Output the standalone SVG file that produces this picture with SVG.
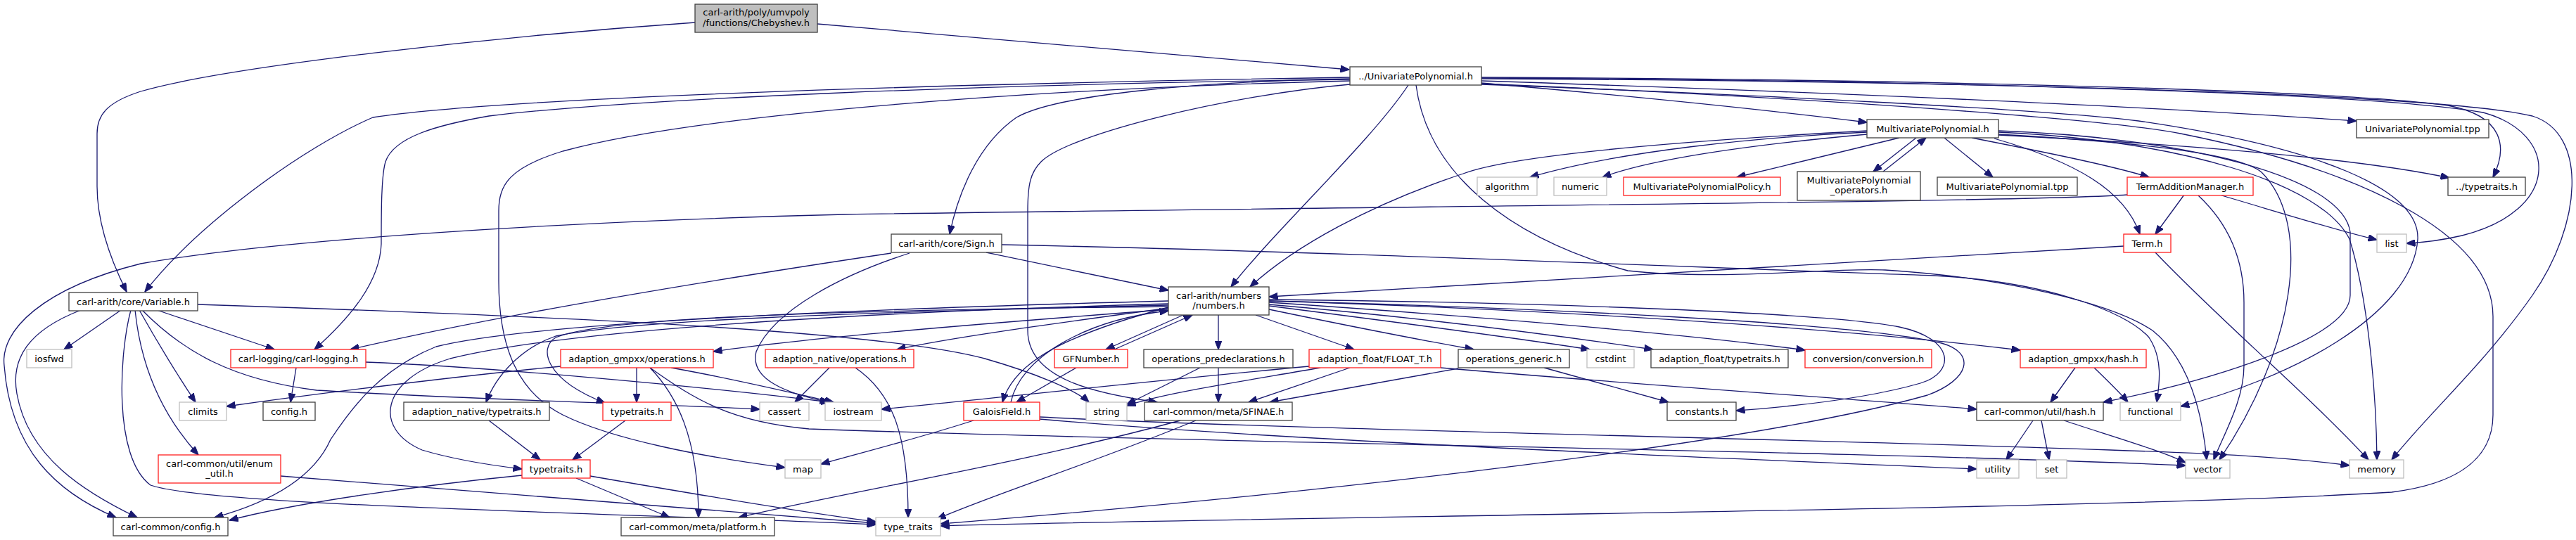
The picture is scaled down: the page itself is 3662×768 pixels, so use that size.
<svg xmlns="http://www.w3.org/2000/svg" width="3662" height="768" viewBox="0 0 3662 768">
<defs>
<style>
.node rect{fill:#ffffff;stroke:#404040;stroke-width:1.3}
.node rect.r{stroke:#ff2020}
.node rect.g{stroke:#bfbfbf}
.node rect.root{fill:#bfbfbf;stroke:#404040}
.node text{font-family:"DejaVu Sans","Liberation Sans",sans-serif;font-size:13px;fill:#000000;text-anchor:middle}
#edges path{fill:none;stroke:#191970;stroke-width:1.3;marker-end:url(#a)}
</style>
<marker id="a" markerUnits="userSpaceOnUse" markerWidth="13" markerHeight="10" viewBox="0 0 13 10" refX="12.5" refY="5" orient="auto"><path d="M0,0 L13,5 L0,10 z" fill="#191970" stroke="#191970" stroke-width="1"/></marker>
</defs>
<rect x="0" y="0" width="3662" height="768" fill="#ffffff"/>
<g id="edges">
<path d="M1162,34 C1450,58 1700,80 1918,99"/>
<path d="M988,32 C700,52 320,95 200,130 C150,146 138,165 138,190 L138,265 C138,320 160,375 180,415"/>
<path d="M1919,112 C1700,116 1500,135 1445,167 C1390,205 1362,275 1350,333"/>
<path d="M1919,110 C1300,120 700,140 530,167 C430,210 280,320 206,415"/>
<path d="M1919,113 C1400,120 900,140 695,165 C620,178 560,195 548,230 C542,250 542,300 542,347 C540,400 500,450 447,497"/>
<path d="M1919,115 C1500,125 1000,160 800,215 C725,238 709,262 709,300 L709,400 C709,500 740,560 800,590 C870,625 1000,650 1116,665"/>
<path d="M2002,121 C1950,200 1810,330 1750,408"/>
<path d="M1919,120 C1750,135 1520,190 1480,230 C1465,245 1461,262 1461,300 L1461,470 C1461,540 1560,560 1645,572"/>
<path d="M2106,118 C2300,135 2500,155 2654,174"/>
<path d="M2106,115 C2500,128 3000,148 3350,172"/>
<path d="M2106,110 C2600,112 3300,125 3480,150 C3560,165 3565,210 3544,252"/>
<path d="M2106,111 C2600,113 3350,128 3530,160 C3640,190 3640,300 3500,335 C3470,342 3445,345 3421,346"/>
<path d="M2106,112 C2700,115 3450,130 3600,165 C3680,190 3670,320 3600,420 C3530,520 3450,590 3400,654"/>
<path d="M2106,120 C2500,135 2900,155 3040,172 C3300,210 3440,270 3437,340 C3430,450 3250,540 3100,578"/>
<path d="M2013,121 C2030,250 2150,340 2314,385 C2450,400 2600,380 2680,384 C2850,395 3000,430 3060,470 C3110,510 3130,580 3137,654"/>
<path d="M2106,119 C2600,140 3000,170 3100,190 C3350,240 3544,330 3544,450 L3544,590 C3544,660 3480,690 3400,700 C3000,725 1800,735 1337,748"/>
<path d="M2654,188 C2500,195 2300,215 2175,252"/>
<path d="M2654,191 C2500,205 2350,225 2278,252"/>
<path d="M2654,186 C2400,200 2150,220 2080,247 C1950,290 1840,350 1777,408"/>
<path d="M2700,196 L2469,252"/>
<path d="M2724,196 L2663,244"/>
<path d="M2677,244 L2738,196"/>
<path d="M2764,196 L2833,252"/>
<path d="M2803,196 C2900,215 3000,235 3055,252"/>
<path d="M2835,197 C2950,230 3020,270 3042,333"/>
<path d="M2841,192 C3100,205 3350,225 3482,253"/>
<path d="M2841,191 C3000,200 3180,215 3215,245 C3290,320 3260,500 3155,654"/>
<path d="M2841,188 C3100,200 3300,260 3340,340 C3365,420 3378,550 3379,654"/>
<path d="M2841,186 C3100,195 3330,250 3341,330 L3341,420 C3341,480 3150,540 2990,572"/>
<path d="M3105,277 L3064,333"/>
<path d="M3155,277 C3250,305 3330,330 3379,341"/>
<path d="M3125,278 C3170,320 3190,370 3190,430 L3190,520 C3190,570 3160,620 3147,654"/>
<path d="M3024,277 C2900,287 2000,293 1200,305 C800,315 400,340 200,375 C60,410 0,470 6,520 C15,640 80,700 165,736"/>
<path d="M3019,350 C2500,380 2000,412 1804,422"/>
<path d="M3064,359 C3150,450 3280,560 3367,654"/>
<path d="M1402,359 C1500,380 1600,400 1661,413"/>
<path d="M1267,360 C1000,400 700,450 498,497"/>
<path d="M1293,360 C1200,390 1100,440 1075,500 C1065,540 1120,560 1178,572"/>
<path d="M1424,348 C1900,358 2400,380 2750,392 C2900,400 3020,440 3055,480 C3075,510 3070,545 3066,572"/>
<path d="M281,433 C800,450 1250,470 1400,510 C1470,530 1530,555 1548,572"/>
<path d="M115,441 C40,470 15,510 24,560 C40,650 120,700 195,736"/>
<path d="M172,441 L91,497"/>
<path d="M186,441 C170,500 160,650 214,690 C300,720 900,730 1245,746"/>
<path d="M192,441 C200,520 230,590 282,647"/>
<path d="M198,441 C220,480 250,530 278,572"/>
<path d="M202,441 C260,500 330,540 450,555 C700,570 950,575 1080,582"/>
<path d="M223,441 L390,497"/>
<path d="M421,523 L413,572"/>
<path d="M520,515 C700,522 1000,550 1180,572"/>
<path d="M399,677 C700,700 1000,725 1245,744"/>
<path d="M742,676 C600,690 420,715 326,740"/>
<path d="M819,680 L952,736"/>
<path d="M839,677 C1000,705 1150,730 1245,742"/>
<path d="M695,598 L768,654"/>
<path d="M889,598 L814,654"/>
<path d="M905,523 L905,572"/>
<path d="M924,523 C960,560 993,620 993,736"/>
<path d="M954,523 C1050,540 1130,560 1185,572"/>
<path d="M924,523 C990,570 1040,600 1150,610 C1700,630 2600,640 3107,662"/>
<path d="M797,521 C650,535 450,560 322,578"/>
<path d="M1179,523 L1130,572"/>
<path d="M1216,523 C1270,560 1291,620 1291,736"/>
<path d="M1682,448 L1572,497"/>
<path d="M1584,497 L1695,448"/>
<path d="M1661,437 C1500,480 1440,520 1425,572"/>
<path d="M1437,572 C1450,510 1540,455 1661,442"/>
<path d="M1530,523 L1445,572"/>
<path d="M1732,448 L1732,497"/>
<path d="M1785,448 L1925,497"/>
<path d="M1804,440 C1900,460 2000,480 2095,497"/>
<path d="M1804,435 C2000,460 2150,480 2260,497"/>
<path d="M1804,433 C2000,450 2200,475 2350,497"/>
<path d="M1804,430 C2100,450 2400,475 2566,498"/>
<path d="M1804,428 C2200,440 2600,465 2872,498"/>
<path d="M1804,426 C2200,430 2600,445 2700,465 C2780,482 2780,530 2730,545 C2650,568 2550,578 2468,584"/>
<path d="M1804,428 C2200,438 2650,460 2760,488 C2810,502 2800,540 2740,562 C2500,630 1900,700 1337,745"/>
<path d="M1661,428 C1200,440 750,460 620,493 C540,525 500,580 470,625 C450,670 400,710 305,736"/>
<path d="M1661,432 C1200,445 800,470 640,510 C540,540 530,610 600,640 C650,655 700,662 742,667"/>
<path d="M1661,434 C1200,445 900,455 790,478 C740,495 705,535 691,572"/>
<path d="M1661,436 C1100,442 850,455 790,480 C765,495 775,540 860,573"/>
<path d="M1661,440 C1400,460 1150,480 1014,500"/>
<path d="M1661,438 C1500,460 1350,480 1275,497"/>
<path d="M1706,523 L1602,575"/>
<path d="M1732,523 L1732,572"/>
<path d="M1861,521 C1600,545 1400,568 1253,582"/>
<path d="M1877,523 C1750,545 1650,560 1602,577"/>
<path d="M1919,523 L1775,572"/>
<path d="M2048,523 C2300,545 2600,565 2810,582"/>
<path d="M2073,524 L1805,572"/>
<path d="M2195,523 L2372,572"/>
<path d="M2950,523 L2915,572"/>
<path d="M2977,523 C3000,545 3015,560 3025,572"/>
<path d="M2890,598 L2852,654"/>
<path d="M2902,598 L2913,654"/>
<path d="M2934,598 C3000,620 3070,640 3107,658"/>
<path d="M1384,598 C1300,625 1220,645 1167,660"/>
<path d="M1478,593 C1800,610 2600,625 3000,640 C3150,645 3250,650 3340,662"/>
<path d="M1478,596 C1800,625 2400,650 2810,667"/>
<path d="M1700,598 C1550,660 1420,700 1332,738"/>
<path d="M1678,598 C1450,660 1200,700 1050,736"/>
</g>
<g id="n_cheb" class="node"><rect class="root" x="988" y="6" width="174" height="40"/><text x="1075" y="22">carl-arith/poly/umvpoly</text><text x="1075" y="37">/functions/Chebyshev.h</text></g>
<g id="n_univ" class="node"><rect x="1919" y="95" width="187" height="26"/><text x="2012.5" y="112.5">../UnivariatePolynomial.h</text></g>
<g id="n_multi" class="node"><rect x="2654" y="170" width="187" height="26"/><text x="2747.5" y="187.5">MultivariatePolynomial.h</text></g>
<g id="n_utpp" class="node"><rect x="3350" y="170" width="188" height="26"/><text x="3444" y="187.5">UnivariatePolynomial.tpp</text></g>
<g id="n_algorithm" class="node"><rect class="g" x="2100" y="252" width="85" height="26"/><text x="2142.5" y="269.5">algorithm</text></g>
<g id="n_numeric" class="node"><rect class="g" x="2209" y="252" width="75" height="26"/><text x="2246.5" y="269.5">numeric</text></g>
<g id="n_policy" class="node"><rect class="r" x="2308" y="252" width="223" height="26"/><text x="2419.5" y="269.5">MultivariatePolynomialPolicy.h</text></g>
<g id="n_ops" class="node"><rect x="2555" y="244" width="175" height="41"/><text x="2642.5" y="261">MultivariatePolynomial</text><text x="2642.5" y="275">_operators.h</text></g>
<g id="n_mtpp" class="node"><rect x="2754" y="252" width="199" height="26"/><text x="2853.5" y="269.5">MultivariatePolynomial.tpp</text></g>
<g id="n_tam" class="node"><rect class="r" x="3024" y="252" width="179" height="26"/><text x="3113.5" y="269.5">TermAdditionManager.h</text></g>
<g id="n_tttop" class="node"><rect x="3480" y="252" width="110" height="26"/><text x="3535" y="269.5">../typetraits.h</text></g>
<g id="n_sign" class="node"><rect x="1267" y="333" width="157" height="26"/><text x="1345.5" y="350.5">carl-arith/core/Sign.h</text></g>
<g id="n_term" class="node"><rect class="r" x="3019" y="333" width="67" height="26"/><text x="3052.5" y="350.5">Term.h</text></g>
<g id="n_list" class="node"><rect class="g" x="3379" y="333" width="42" height="26"/><text x="3400" y="350.5">list</text></g>
<g id="n_variable" class="node"><rect x="98" y="416" width="183" height="26"/><text x="189.5" y="433.5">carl-arith/core/Variable.h</text></g>
<g id="n_numbers" class="node"><rect x="1661" y="408" width="143" height="40"/><text x="1732.5" y="425">carl-arith/numbers</text><text x="1732.5" y="439">/numbers.h</text></g>
<g id="n_iosfwd" class="node"><rect class="g" x="38" y="497" width="64" height="26"/><text x="70" y="514.5">iosfwd</text></g>
<g id="n_carllog" class="node"><rect class="r" x="328" y="497" width="192" height="26"/><text x="424" y="514.5">carl-logging/carl-logging.h</text></g>
<g id="n_gmpops" class="node"><rect class="r" x="797" y="497" width="217" height="26"/><text x="905.5" y="514.5">adaption_gmpxx/operations.h</text></g>
<g id="n_natops" class="node"><rect class="r" x="1088" y="497" width="211" height="26"/><text x="1193.5" y="514.5">adaption_native/operations.h</text></g>
<g id="n_gfnumber" class="node"><rect class="r" x="1499" y="497" width="104" height="26"/><text x="1551" y="514.5">GFNumber.h</text></g>
<g id="n_opspre" class="node"><rect x="1626" y="497" width="212" height="26"/><text x="1732" y="514.5">operations_predeclarations.h</text></g>
<g id="n_float" class="node"><rect class="r" x="1861" y="497" width="187" height="26"/><text x="1954.5" y="514.5">adaption_float/FLOAT_T.h</text></g>
<g id="n_opsgen" class="node"><rect x="2073" y="497" width="158" height="26"/><text x="2152" y="514.5">operations_generic.h</text></g>
<g id="n_cstdint" class="node"><rect class="g" x="2256" y="497" width="67" height="26"/><text x="2289.5" y="514.5">cstdint</text></g>
<g id="n_afloattt" class="node"><rect x="2347" y="497" width="195" height="26"/><text x="2444.5" y="514.5">adaption_float/typetraits.h</text></g>
<g id="n_conversion" class="node"><rect class="r" x="2566" y="497" width="180" height="26"/><text x="2656" y="514.5">conversion/conversion.h</text></g>
<g id="n_gmphash" class="node"><rect class="r" x="2872" y="497" width="179" height="26"/><text x="2961.5" y="514.5">adaption_gmpxx/hash.h</text></g>
<g id="n_climits" class="node"><rect class="g" x="255" y="572" width="67" height="26"/><text x="288.5" y="589.5">climits</text></g>
<g id="n_configh" class="node"><rect x="374" y="572" width="74" height="26"/><text x="411" y="589.5">config.h</text></g>
<g id="n_nattt" class="node"><rect x="574" y="572" width="207" height="26"/><text x="677.5" y="589.5">adaption_native/typetraits.h</text></g>
<g id="n_tt1" class="node"><rect class="r" x="857" y="572" width="97" height="26"/><text x="905.5" y="589.5">typetraits.h</text></g>
<g id="n_cassert" class="node"><rect class="g" x="1080" y="572" width="70" height="26"/><text x="1115" y="589.5">cassert</text></g>
<g id="n_iostream" class="node"><rect class="g" x="1173" y="572" width="80" height="26"/><text x="1213" y="589.5">iostream</text></g>
<g id="n_galois" class="node"><rect class="r" x="1370" y="572" width="108" height="26"/><text x="1424" y="589.5">GaloisField.h</text></g>
<g id="n_string" class="node"><rect class="g" x="1544" y="572" width="58" height="26"/><text x="1573" y="589.5">string</text></g>
<g id="n_sfinae" class="node"><rect x="1627" y="572" width="210" height="26"/><text x="1732" y="589.5">carl-common/meta/SFINAE.h</text></g>
<g id="n_constants" class="node"><rect x="2370" y="572" width="98" height="26"/><text x="2419" y="589.5">constants.h</text></g>
<g id="n_hash" class="node"><rect x="2810" y="572" width="180" height="26"/><text x="2900" y="589.5">carl-common/util/hash.h</text></g>
<g id="n_functional" class="node"><rect class="g" x="3014" y="572" width="86" height="26"/><text x="3057" y="589.5">functional</text></g>
<g id="n_enum" class="node"><rect class="r" x="225" y="647" width="174" height="40"/><text x="312" y="664">carl-common/util/enum</text><text x="312" y="678">_util.h</text></g>
<g id="n_tt2" class="node"><rect class="r" x="742" y="654" width="97" height="26"/><text x="790.5" y="671.5">typetraits.h</text></g>
<g id="n_map" class="node"><rect class="g" x="1116" y="654" width="51" height="26"/><text x="1141.5" y="671.5">map</text></g>
<g id="n_utility" class="node"><rect class="g" x="2810" y="654" width="60" height="26"/><text x="2840" y="671.5">utility</text></g>
<g id="n_set" class="node"><rect class="g" x="2895" y="654" width="43" height="26"/><text x="2916.5" y="671.5">set</text></g>
<g id="n_vector" class="node"><rect class="g" x="3107" y="654" width="63" height="26"/><text x="3138.5" y="671.5">vector</text></g>
<g id="n_memory" class="node"><rect class="g" x="3340" y="654" width="77" height="26"/><text x="3378.5" y="671.5">memory</text></g>
<g id="n_cconfig" class="node"><rect x="161" y="736" width="163" height="26"/><text x="242.5" y="753.5">carl-common/config.h</text></g>
<g id="n_platform" class="node"><rect x="883" y="736" width="218" height="26"/><text x="992" y="753.5">carl-common/meta/platform.h</text></g>
<g id="n_typetraits_std" class="node"><rect class="g" x="1245" y="736" width="92" height="26"/><text x="1291" y="753.5">type_traits</text></g>
</svg>
